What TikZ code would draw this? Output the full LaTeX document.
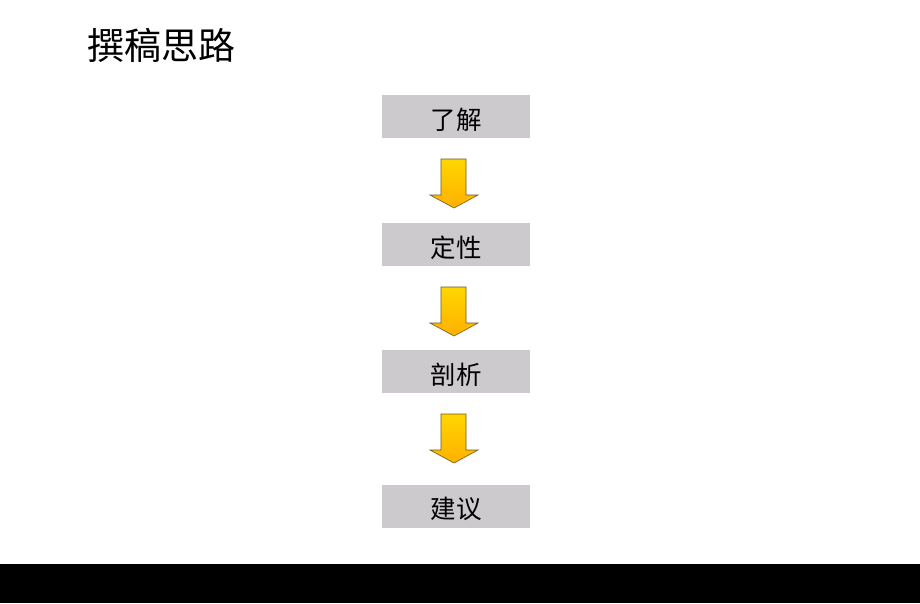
\documentclass[tikz,border=0pt]{standalone}
\usepackage{fontspec}
\newfontfamily\cjk{Noto Sans CJK SC}
\begin{document}
\begin{tikzpicture}[x=1pt,y=-1pt,
  stepbox/.style={fill=boxgray, draw=none, minimum width=148pt, minimum height=43pt, inner sep=0pt},
  steptext/.style={inner sep=0pt, font=\cjk\fontsize{25.5}{27}\selectfont},
  downarrow/.style={draw=arrowline, line width=0.6pt, top color=arrowtop, bottom color=arrowbot}]
\definecolor{boxgray}{RGB}{204,202,204}
\definecolor{arrowtop}{RGB}{255,214,0}
\definecolor{arrowbot}{RGB}{255,176,0}
\definecolor{arrowline}{RGB}{110,90,20}
\useasboundingbox (0,0) rectangle (920,603);
\fill[white] (0,0) rectangle (920,603);
\fill[black] (0,564) rectangle (920,603);
\node[anchor=west, inner sep=0pt, font=\cjk\fontsize{37}{40}\selectfont] (title) at (87,45) {撰稿思路};
\node[stepbox] (s1) at (456,116.5) {};
\node[stepbox] (s2) at (456,244.5) {};
\node[stepbox] (s3) at (456,371.5) {};
\node[stepbox] (s4) at (456,506) {};
\node[steptext] (t1) at ([yshift=-3pt]s1.center) {了解};
\node[steptext] (t2) at ([yshift=-3pt]s2.center) {定性};
\node[steptext] (t3) at ([yshift=-3pt]s3.center) {剖析};
\node[steptext] (t4) at ([yshift=-3pt]s4.center) {建议};
\foreach \t in {159,287,414}{
  \path[downarrow] (441,\t) -- (466,\t) -- (466,\t+36) -- (478,\t+36) -- (454,\t+49) -- (430,\t+36) -- (441,\t+36) -- cycle;
}
\end{tikzpicture}
\end{document}
